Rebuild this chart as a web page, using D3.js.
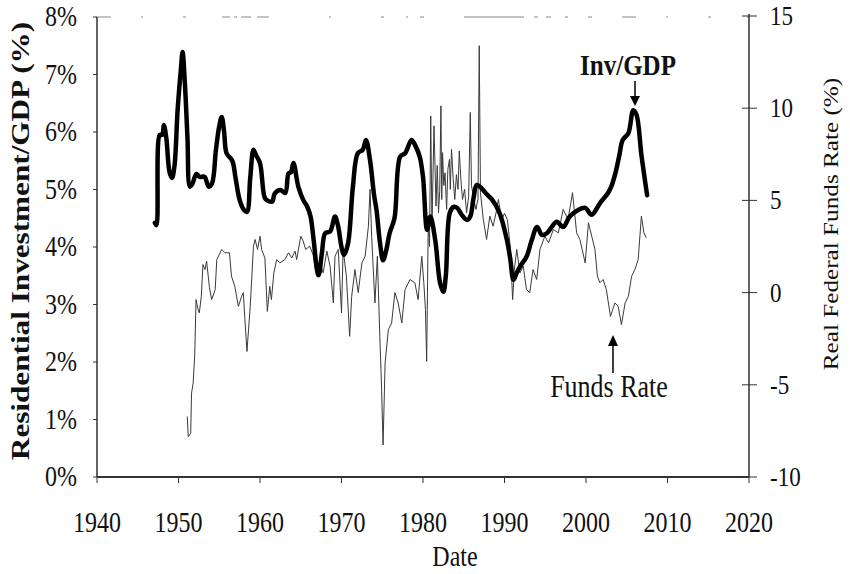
<!DOCTYPE html>
<html lang="en">
<head>
<meta charset="utf-8" />
<title>Residential Investment/GDP vs Real Federal Funds Rate</title>
<script src="https://d3js.org/d3.v7.min.js"></script>
<style>
  body { margin: 0; background: #fff; }
  svg  { display: block; }
  text { font-family: "Liberation Serif", "Times New Roman", serif; fill: #111; }
</style>
</head>
<body>
<svg id="chart" width="850" height="574"></svg>
<script>
/* ── data ─────────────────────────────────────────── */
const xTicks     = [1940, 1950, 1960, 1970, 1980, 1990, 2000, 2010, 2020];
const leftTicks  = [0, 1, 2, 3, 4, 5, 6, 7, 8];
const rightTicks = [-10, -5, 0, 5, 10, 15];

// residential investment / GDP (%), [year, value]
const invGdp = [
  [1947.1,4.42],[1947.3,4.38],[1947.7,5.95],[1948.0,5.95],[1948.2,6.12],[1948.5,5.9],
  [1948.9,5.3],[1949.2,5.2],[1949.5,5.4],[1949.9,6.4],[1950.3,7.1],[1950.5,7.39],
  [1950.8,6.8],[1951.1,5.9],[1951.4,5.05],[1951.7,5.1],[1952.2,5.27],[1952.6,5.22],
  [1953.2,5.22],[1953.7,5.05],[1954.1,5.1],[1954.6,5.7],[1955.0,6.1],[1955.3,6.26],
  [1955.6,6.0],[1955.9,5.63],[1956.6,5.5],[1957.0,5.2],[1957.5,4.82],[1958.0,4.65],
  [1958.4,4.61],[1958.8,5.2],[1959.2,5.69],[1959.5,5.6],[1960.0,5.46],[1960.6,4.85],
  [1961.0,4.8],[1961.5,4.79],[1961.8,4.93],[1962.5,4.99],[1963.1,4.94],[1963.5,5.28],
  [1963.8,5.3],[1964.1,5.46],[1964.7,5.05],[1965.3,4.82],[1965.8,4.7],[1966.2,4.53],
  [1966.6,4.1],[1967.0,3.6],[1967.2,3.51],[1967.6,3.9],[1968.0,4.24],[1968.6,4.27],
  [1969.2,4.53],[1969.6,4.35],[1970.0,4.0],[1970.3,3.86],[1970.8,4.06],[1971.4,5.05],
  [1972.0,5.63],[1972.6,5.69],[1973.0,5.86],[1973.5,5.51],[1974.0,4.9],[1974.3,4.64],
  [1974.7,4.1],[1975.1,3.77],[1975.5,3.95],[1975.9,4.24],[1976.5,4.5],[1977.2,5.57],
  [1977.8,5.63],[1978.6,5.86],[1979.1,5.75],[1979.6,5.57],[1980.0,5.22],[1980.5,4.3],
  [1980.9,4.53],[1981.5,4.12],[1982.1,3.37],[1982.5,3.22],[1982.8,3.5],[1983.3,4.6],
  [1983.8,4.7],[1984.2,4.68],[1984.8,4.55],[1985.4,4.47],[1985.8,4.53],[1986.2,4.85],
  [1986.6,5.08],[1987.2,5.02],[1987.8,4.92],[1988.5,4.82],[1989.4,4.59],[1990.3,4.12],
  [1990.7,3.8],[1991.1,3.43],[1991.5,3.55],[1991.9,3.66],[1992.7,3.83],[1993.3,4.1],
  [1994.0,4.35],[1994.6,4.21],[1995.2,4.24],[1995.8,4.35],[1996.4,4.44],[1997.2,4.35],
  [1998.0,4.53],[1999.0,4.64],[1999.9,4.68],[2000.7,4.56],[2001.7,4.76],[2002.7,4.94],
  [2003.1,5.05],[2003.6,5.28],[2004.1,5.6],[2004.5,5.86],[2005.2,5.98],[2005.8,6.38],
  [2006.2,6.3],[2006.8,5.6],[2007.5,4.9]
];

// real federal funds rate (%), [year, value]
const fundsRate = [
  [1951.07,-6.72],[1951.2,-7.81],[1951.5,-7.63],[1951.6,-5.45],[1951.8,-4.91],[1952.0,-3.28],
  [1952.15,-0.38],[1952.4,-0.92],[1952.55,-1.1],[1952.8,-0.2],[1953.0,1.52],[1953.25,1.25],
  [1953.45,1.7],[1953.8,0.26],[1954.07,-0.38],[1954.5,0.16],[1954.7,1.79],[1955.3,2.34],
  [1955.7,2.16],[1956.25,2.16],[1956.5,0.89],[1956.9,0.34],[1957.35,-0.75],[1957.75,-0.2],
  [1957.95,0],[1958.15,-1.47],[1958.4,-3.19],[1958.8,-0.75],[1959.2,2.52],[1959.4,2.88],
  [1959.7,2.34],[1960.0,3.06],[1960.2,2.34],[1960.6,1.88],[1960.9,-1.02],[1961.2,0.34],
  [1961.4,-0.38],[1961.7,1.07],[1962.05,1.79],[1962.45,1.61],[1963.05,1.79],[1963.5,2.16],
  [1963.9,1.88],[1964.3,2.25],[1964.5,1.79],[1965.0,3.06],[1965.3,2.79],[1965.6,2.34],
  [1966.1,2.52],[1966.5,2.07],[1966.95,0.89],[1967.35,1.61],[1967.75,1.07],[1968.2,2.25],
  [1968.6,1.43],[1969.0,-0.56],[1969.2,1.97],[1969.6,2.34],[1970.0,-1.1],[1970.2,2.34],
  [1970.6,0.89],[1971.0,-2.37],[1971.25,-0.2],[1971.65,1.25],[1972.05,0],[1972.5,1.61],
  [1972.9,1.97],[1973.3,3.6],[1973.5,5.6],[1973.7,3.06],[1974.1,-0.56],[1974.4,1.97],
  [1974.7,-2.37],[1974.9,-4.91],[1975.1,-8.26],[1975.35,-3.82],[1975.75,-2.01],[1976.15,-1.65],
  [1976.55,0],[1976.95,-0.56],[1977.4,-1.65],[1977.8,0.16],[1978.4,0.71],[1979.0,0.53],
  [1979.4,-0.38],[1979.85,1.97],[1980.1,0.53],[1980.3,-0.92],[1980.45,-3.73],[1980.65,3.97],
  [1980.8,2.5],[1980.95,9.58],[1981.1,3.6],[1981.35,9.04],[1981.6,4.69],[1981.75,6.9],
  [1981.9,4.33],[1982.05,5.5],[1982.2,10.13],[1982.3,5.05],[1982.4,7.59],[1982.55,5.8],
  [1982.7,6.5],[1982.9,4.51],[1983.05,6.68],[1983.25,7.23],[1983.35,5.6],[1983.5,7.77],
  [1983.7,6.2],[1983.9,5.05],[1984.1,6.4],[1984.3,5.6],[1984.45,7.68],[1984.65,6.1],
  [1984.85,5.05],[1985.1,5.6],[1985.35,4.33],[1985.6,5.2],[1985.8,9.77],[1985.95,5.8],
  [1986.1,5.42],[1986.3,4.9],[1986.5,4.51],[1986.75,5.1],[1986.9,13.39],[1987.05,5.42],
  [1987.4,3.97],[1987.8,2.88],[1988.2,4.15],[1988.6,3.6],[1989.0,4.4],[1989.25,5.05],
  [1989.65,3.97],[1990.0,4.3],[1990.35,3.97],[1990.7,2.52],[1991.0,-0.38],[1991.2,1.2],
  [1991.5,2.34],[1991.9,1.07],[1992.3,1.43],[1992.7,0.16],[1993.1,0],[1993.5,1.25],
  [1993.95,0.71],[1994.35,2.34],[1994.95,3.06],[1995.4,2.7],[1996.0,3.42],[1996.6,3.24],
  [1997.2,4.51],[1997.8,3.97],[1998.35,5.42],[1998.85,3.24],[1999.25,2.88],[1999.9,1.61],
  [2000.3,3.79],[2000.7,3.06],[2001.1,2.34],[2001.4,0.89],[2001.7,0.53],[2002.1,0.71],
  [2002.5,0.16],[2003.0,-1.29],[2003.55,-0.56],[2003.95,-0.75],[2004.35,-1.74],[2004.8,-0.56],
  [2005.2,-0.2],[2005.6,0.89],[2006.0,1.25],[2006.4,1.79],[2006.8,4.15],[2007.1,3.24],
  [2007.4,2.97]
];

/* ── layout & scales ──────────────────────────────── */
const svg = d3.select("#chart");
const plotLeft = 97, plotRight = 749, plotTop = 17, plotBottom = 477;
const stretch = 1.2;   // the scanned type is taller than it is wide

const x  = d3.scaleLinear().domain([1940, 2020]).range([plotLeft, plotRight]);
const yL = d3.scaleLinear().domain([0, 8]).range([plotBottom, plotTop]);
const yR = d3.scaleLinear().domain([-10, 15]).range([plotBottom, plotTop - 1]);

// text helper: tall serif like the scan
function label(tx, ty, str, o = {}) {
  const rot = o.rotate ? " rotate(-90) scale(" + stretch + ",1)" : " scale(1," + stretch + ")";
  return svg.append("text")
    .attr("transform", `translate(${tx},${ty})` + rot)
    .attr("text-anchor", o.anchor || "middle")
    .attr("font-size", o.size || 24)
    .attr("font-weight", o.bold ? "bold" : "normal")
    .text(str);
}

/* ── frame ────────────────────────────────────────── */
svg.append("line")
  .attr("x1", plotLeft).attr("x2", plotRight).attr("y1", plotTop).attr("y2", plotTop)
  .attr("stroke", "#888").attr("stroke-width", 1)
  .attr("stroke-dasharray", "14 30 2 40 3 36 8 4 3 4 10 6 12 60 2 50 3 22 2 12 4 40 60 10 4 8 5 14 3 20 4 30");

svg.append("line")
  .attr("x1", plotLeft).attr("x2", plotLeft).attr("y1", plotTop).attr("y2", plotBottom)
  .attr("stroke", "#222").attr("stroke-width", 1.4);
svg.append("line")
  .attr("x1", plotRight).attr("x2", plotRight).attr("y1", plotTop - 3).attr("y2", plotBottom)
  .attr("stroke", "#222").attr("stroke-width", 1.4);
svg.append("line")
  .attr("x1", plotLeft).attr("x2", plotRight).attr("y1", plotBottom).attr("y2", plotBottom)
  .attr("stroke", "#333").attr("stroke-width", 2);

/* ── axes ─────────────────────────────────────────── */
leftTicks.forEach(v => {
  svg.append("line").attr("x1", plotLeft - 4).attr("x2", plotLeft)
    .attr("y1", yL(v)).attr("y2", yL(v)).attr("stroke", "#333");
  label(77, yL(v) + 9, v + "%", { anchor: "end" });
});

rightTicks.forEach(v => {
  svg.append("line").attr("x1", plotRight - 7).attr("x2", plotRight + 8)
    .attr("y1", yR(v)).attr("y2", yR(v)).attr("stroke", "#333");
  label(770, yR(v) + 9, String(v), { anchor: "start", size: 23 });
});

xTicks.forEach(v => {
  svg.append("line").attr("x1", x(v)).attr("x2", x(v))
    .attr("y1", plotBottom).attr("y2", plotBottom + 6).attr("stroke", "#333");
  label(x(v), 532, String(v));
});

label(455, 566, "Date");
label(29, 241, "Residential Investment/GDP (%)", { rotate: true, bold: true, size: 26 });
label(838, 224, "Real Federal Funds Rate (%)", { rotate: true, size: 21 });

/* ── series ───────────────────────────────────────── */
svg.append("path")
  .datum(fundsRate)
  .attr("fill", "none").attr("stroke", "#3a3a3a").attr("stroke-width", 1)
  .attr("d", d3.line().x(d => x(d[0])).y(d => yR(d[1])));

svg.append("path")
  .datum(invGdp)
  .attr("fill", "none").attr("stroke", "#000").attr("stroke-width", 4.5)
  .attr("stroke-linejoin", "round").attr("stroke-linecap", "round")
  .attr("d", d3.line().x(d => x(d[0])).y(d => yL(d[1])).curve(d3.curveCatmullRom));

/* ── annotations ──────────────────────────────────── */
label(628, 75, "Inv/GDP", { bold: true, size: 25 });
svg.append("line").attr("x1", 635).attr("x2", 635).attr("y1", 81).attr("y2", 98)
  .attr("stroke", "#000").attr("stroke-width", 1.5);
svg.append("path").attr("d", "M630,96 L640,96 L635,106 Z").attr("fill", "#000");

label(609, 397, "Funds Rate", { size: 26 });
svg.append("line").attr("x1", 613).attr("x2", 613).attr("y1", 344).attr("y2", 373)
  .attr("stroke", "#000").attr("stroke-width", 1.5);
svg.append("path").attr("d", "M608,346 L618,346 L613,335 Z").attr("fill", "#000");
</script>
</body>
</html>
